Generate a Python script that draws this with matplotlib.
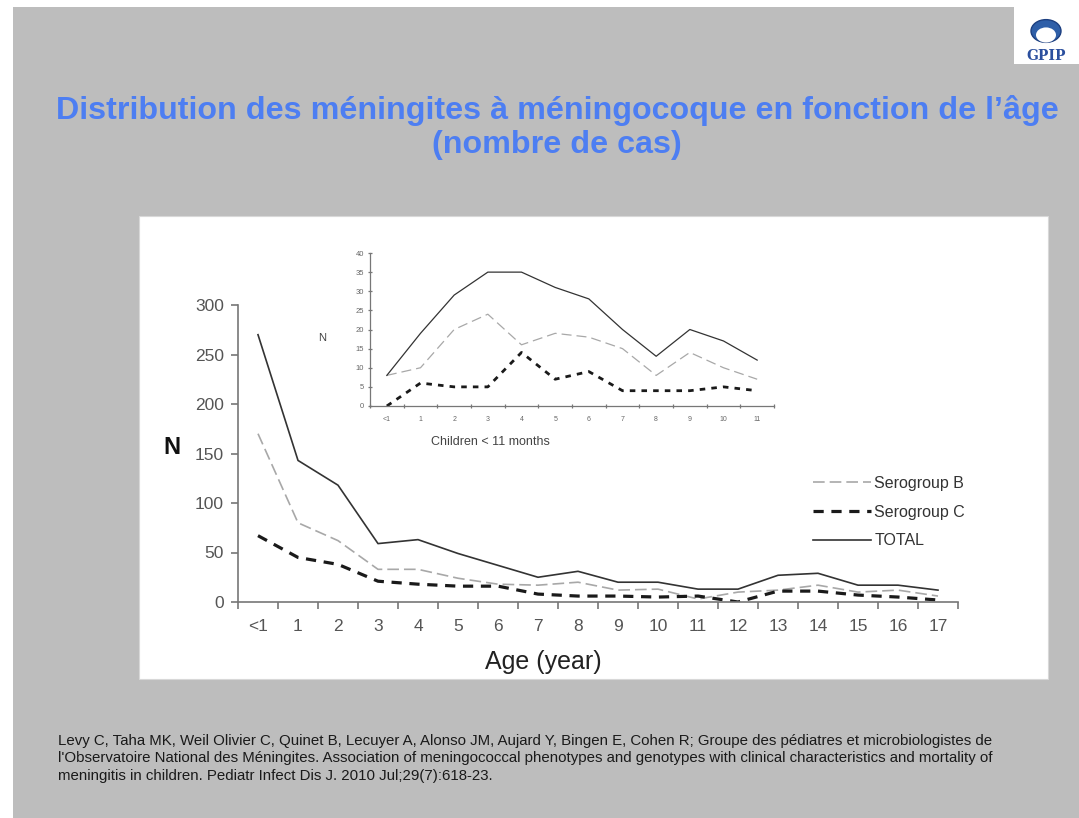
import matplotlib
matplotlib.use("Agg")
import matplotlib.pyplot as plt
from matplotlib.patches import Rectangle, Circle

W, H = 1079, 818

# Données principales (nombre de cas par âge en années)
ages = ["<1", "1", "2", "3", "4", "5", "6", "7", "8", "9",
        "10", "11", "12", "13", "14", "15", "16", "17"]
total = [270, 143, 118, 59, 63, 49, 37, 25, 31, 20, 20, 13, 13, 27, 29, 17, 17, 12]
sero_b = [170, 80, 62, 33, 33, 24, 18, 17, 20, 12, 13, 3, 10, 12, 17, 10, 12, 6]
sero_c = [67, 45, 38, 21, 18, 16, 16, 8, 6, 6, 5, 6, 0, 11, 11, 7, 5, 2]

# Encart : enfants < 11 mois
mois = ["<1", "1", "2", "3", "4", "5", "6", "7", "8", "9", "10", "11"]
total_mois = [8, 19, 29, 35, 35, 31, 28, 20, 13, 20, 17, 12]
sero_b_mois = [8, 10, 20, 24, 16, 19, 18, 15, 8, 14, 10, 7]
sero_c_mois = [0, 6, 5, 5, 14, 7, 9, 4, 4, 4, 5, 4]

titre = "Distribution des méningites à méningocoque en fonction de l\u2019âge"
sous_titre = "(nombre de cas)"
reference = ("Levy C, Taha MK, Weil Olivier C, Quinet B, Lecuyer A, Alonso JM, Aujard Y, Bingen E, Cohen R; "
             "Groupe des pédiatres et microbiologistes de\n"
             "l'Observatoire National des Méningites. Association of meningococcal phenotypes and genotypes "
             "with clinical characteristics and mortality of\n"
             "meningitis in children. Pediatr Infect Dis J. 2010 Jul;29(7):618-23.")

ARIAL = ["Liberation Sans", "DejaVu Sans"]


def fx(x):
    return x / W


def fy(y):
    return 1 - y / H


def rect(x0, y0, x1, y1):
    return [fx(x0), fy(y1), (x1 - x0) / W, (y1 - y0) / H]


def ajuster_largeur(fig, txt, largeur):
    # réduit la taille de police pour que le texte tienne dans la largeur voulue (px)
    rendu = fig.canvas.get_renderer()
    actuelle = txt.get_window_extent(rendu).width
    txt.set_fontsize(txt.get_fontsize() * largeur / actuelle)


def style_axes(ax, taille, couleur="#777777", lw=1.2):
    for cote in ["top", "right"]:
        ax.spines[cote].set_visible(False)
    for cote in ["left", "bottom"]:
        ax.spines[cote].set_color(couleur)
        ax.spines[cote].set_linewidth(lw)
    ax.tick_params(axis="both", which="both", colors=couleur, labelcolor="#555555",
                   labelsize=taille, width=lw, direction="out")
    for lab in ax.get_xticklabels(minor=True) + ax.get_yticklabels():
        lab.set_family(ARIAL)


fig = plt.figure(figsize=(W / 100, H / 100), dpi=100)
fig.patch.set_facecolor("white")

# fond gris de la diapositive
fig.patches.append(Rectangle((fx(13), 0), 1, fy(7), transform=fig.transFigure,
                             facecolor="#bdbdbd", edgecolor="none", zorder=-3))
# cadre blanc du graphique
fig.patches.append(Rectangle((fx(139), fy(679)), (1048 - 139) / W, (679 - 216) / H,
                             transform=fig.transFigure, facecolor="white",
                             edgecolor="#d8d8d8", lw=0.8, zorder=-2))
# logo GPIP
fig.patches.append(Rectangle((fx(1014), fy(64)), 1, (64 - 6) / H, transform=fig.transFigure,
                             facecolor="white", edgecolor="none", zorder=-2))
fig.patches.append(Circle((fx(1046), fy(31)), 15 / W, transform=fig.transFigure,
                          facecolor="#2f5fa8", edgecolor="#1c3f80", zorder=-1))
fig.patches.append(Circle((fx(1046), fy(35)), 10 / W, transform=fig.transFigure,
                          facecolor="white", edgecolor="none", zorder=-1))
fig.text(fx(1046), fy(56), "GPIP", ha="center", va="center", fontsize=10,
         fontweight="bold", family="DejaVu Serif", color="#2b4f9e")

# titre
t1 = fig.text(fx(557), fy(110), titre, ha="center", va="center", fontsize=26,
              fontweight="bold", family=ARIAL, color="#4d7ef2")
t2 = fig.text(fx(557), fy(145), sous_titre, ha="center", va="center", fontsize=26,
              fontweight="bold", family=ARIAL, color="#4d7ef2")

# graphique principal
ax = fig.add_axes(rect(238, 305, 958, 602))
ax.set_zorder(2)
ax.set_facecolor("none")
xs = [i + 0.5 for i in range(len(ages))]
l_b, = ax.plot(xs, sero_b, color="#a8a8a8", lw=1.2, dashes=(7, 3), label="Serogroup B")
l_c, = ax.plot(xs, sero_c, color="#1a1a1a", lw=2.3, dashes=(3.2, 2.4), label="Serogroup C")
l_t, = ax.plot(xs, total, color="#333333", lw=1.2, label="TOTAL")
ax.set_xlim(0, len(ages))
ax.set_ylim(0, 300)
ax.set_yticks(range(0, 301, 50))
ax.set_xticks(range(len(ages) + 1))
ax.set_xticklabels([])
ax.set_xticks(xs, minor=True)
ax.set_xticklabels(ages, minor=True)
style_axes(ax, 12.5)
ax.tick_params(axis="x", which="minor", length=0, pad=12)
ax.tick_params(axis="x", which="major", length=5)
ax.tick_params(axis="y", length=5, pad=5)

fig.text(fx(172), fy(448), "N", ha="center", va="center", fontsize=17,
         fontweight="bold", family=ARIAL, color="#111111")
fig.text(fx(543), fy(662), "Age (year)", ha="center", va="center", fontsize=18,
         family=ARIAL, color="#222222")

fig.legend(handles=[l_b, l_c, l_t], loc="upper left", bbox_to_anchor=(fx(813), fy(476)),
           frameon=False, prop={"family": ARIAL, "size": 11.5}, handlelength=3.6,
           handletextpad=0.25, labelspacing=0.85, borderaxespad=0, borderpad=0,
           labelcolor="#333333")

# encart
axi = fig.add_axes(rect(370, 253, 774, 406))
axi.set_zorder(3)
axi.set_facecolor("white")
xm = [i + 0.5 for i in range(len(mois))]
axi.plot(xm, sero_b_mois, color="#a8a8a8", lw=0.9, dashes=(8, 4))
axi.plot(xm, sero_c_mois, color="#1a1a1a", lw=2.0, dashes=(2, 2.2))
axi.plot(xm, total_mois, color="#333333", lw=0.9)
axi.set_xlim(0, len(mois))
axi.set_ylim(0, 40)
axi.set_yticks(range(0, 41, 5))
axi.set_xticks(range(len(mois) + 1))
axi.set_xticklabels([])
axi.set_xticks(xm, minor=True)
axi.set_xticklabels(mois, minor=True)
style_axes(axi, 5.5, couleur="#777777", lw=0.9)
axi.tick_params(axis="x", which="minor", length=0, pad=7, labelcolor="#666666", labelsize=5)
axi.tick_params(axis="x", which="major", length=3, direction="inout")
axi.tick_params(axis="y", length=3, pad=3, direction="inout", labelcolor="#666666")

fig.text(fx(322), fy(338), "N", ha="center", va="center", fontsize=8,
         family=ARIAL, color="#444444")
fig.text(fx(431), fy(442), "Children < 11 months", ha="left", va="center", fontsize=9,
         family=ARIAL, color="#444444")

# référence bibliographique
ref = fig.text(fx(58), fy(734), reference, ha="left", va="top", fontsize=10.8,
               family=ARIAL, color="#1a1a1a", linespacing=1.3)

ajuster_largeur(fig, t1, 1001)
t2.set_fontsize(t1.get_fontsize())

fig.savefig("out.png", dpi=100, facecolor=fig.get_facecolor())
